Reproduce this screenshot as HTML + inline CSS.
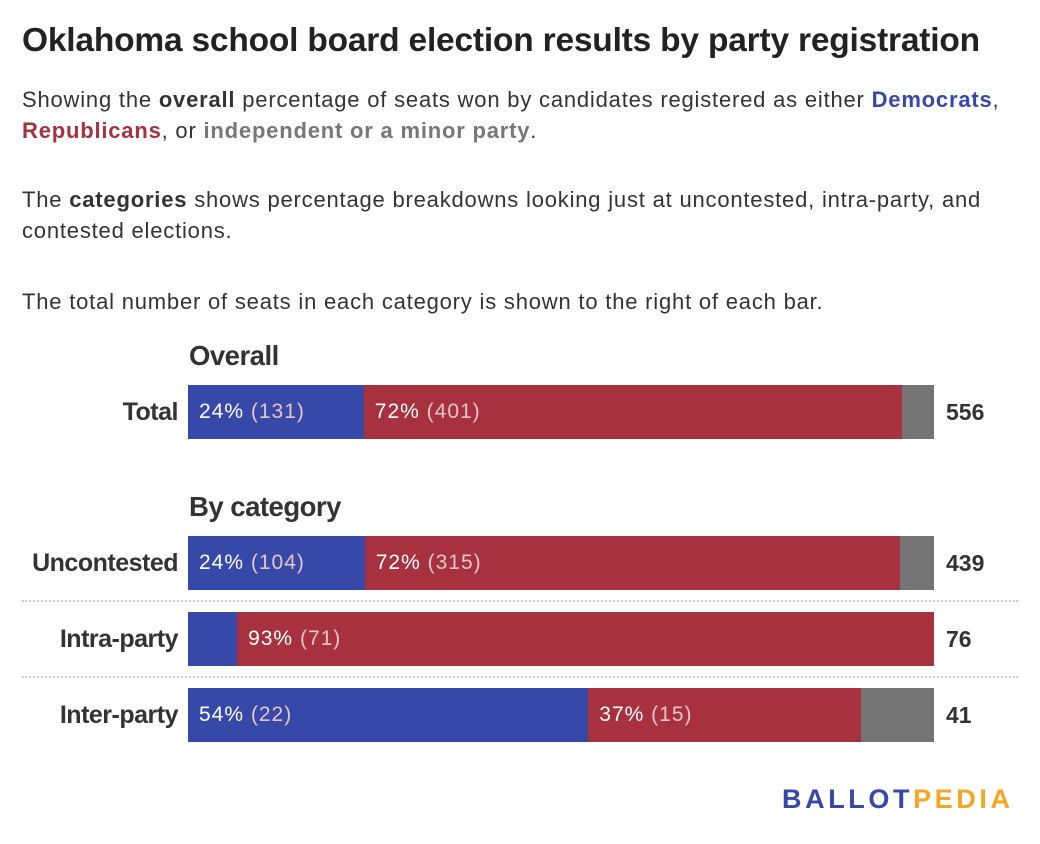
<!DOCTYPE html>
<html><head><meta charset="utf-8"><style>
body{margin:0;width:1040px;height:844px;background:#fff;font-family:"Liberation Sans",sans-serif;color:#333;position:relative;overflow:hidden}
.a{position:absolute;white-space:nowrap}
#title{left:22px;top:21px;font-size:33.5px;line-height:40px;font-weight:bold;color:#222;letter-spacing:-0.2px}
.p{left:22px;font-size:22px;line-height:26px;letter-spacing:0.8px;color:#333}
.dem{color:#3649a9;font-weight:bold}.rep{color:#a8313f;font-weight:bold}.ind{color:#777;font-weight:bold}
.h{left:189px;font-size:27.5px;line-height:32px;font-weight:bold;color:#333;letter-spacing:-0.5px}
.lab{font-size:25px;line-height:30px;font-weight:bold;color:#333;text-align:right;width:170px;left:8px;letter-spacing:-0.5px}
.tot{font-size:23px;line-height:28px;font-weight:bold;color:#333;left:946px}
.seg{position:absolute;height:54px}
.sl{position:absolute;color:#fff;font-size:21px;line-height:54px;left:11px;white-space:nowrap;letter-spacing:1px}
.sl span{color:#e6c4c8}
.sep{position:absolute;left:22px;width:996px;border-top:2px dotted #ccc}
</style></head><body>
<div id="title" class="a">Oklahoma school board election results by party registration</div>
<div class="a p" style="top:87px">Showing the <b>overall</b> percentage of seats won by candidates registered as either <span class="dem">Democrats</span>,</div>
<div class="a p" style="top:118px"><span class="rep">Republicans</span>, or <span class="ind">independent or a minor party</span>.</div>
<div class="a p" style="top:187px">The <b>categories</b> shows percentage breakdowns looking just at uncontested, intra-party, and</div>
<div class="a p" style="top:218px">contested elections.</div>
<div class="a p" style="top:289px">The total number of seats in each category is shown to the right of each bar.</div>
<div class="a h" style="top:340px">Overall</div>
<div class="a h" style="top:491px">By category</div>
<div class="sep" style="top:600px"></div>
<div class="sep" style="top:676px"></div>
<div class="a" style="left:782px;top:784px;font-size:27px;font-weight:bold;letter-spacing:3.6px"><span style="color:#3649a9">BALLOT</span><span style="color:#f5a623">PEDIA</span></div>
<div id="chart"></div>
<script>
const categories=["Total","Uncontested","Intra-party","Inter-party"];
const demSeats=[131,104,5,22];
const repSeats=[401,315,71,15];
const indSeats=[24,20,0,4];
const rowTops=[385,536,612,688];
const X0=188,W=746;
const xScale=(v,t)=>v/t*W;
const chart=document.getElementById('chart');
categories.forEach((c,i)=>{
  const t=demSeats[i]+repSeats[i]+indSeats[i];
  const y=rowTops[i];
  const lab=document.createElement('div');
  lab.className='a lab';lab.style.top=(y+12)+'px';lab.textContent=c;
  
  
  chart.appendChild(lab);
  let x=X0;
  const segs=[[demSeats[i],'#3649a9','dem'],[repSeats[i],'#a8313f','rep'],[indSeats[i],'#747474','ind']];
  segs.forEach(([v,col,k])=>{
    const w=xScale(v,t);
    if(w<=0)return;
    const s=document.createElement('div');
    s.className='seg';s.style.left=x+'px';s.style.top=y+'px';s.style.width=w+'px';s.style.background=col;
    
    
    const pct=Math.round(v/t*100);
    if(k!=='ind'&&w>100){
      const l=document.createElement('div');l.className='sl';
      l.innerHTML=pct+'% <span>('+v+')</span>';
      
      
      s.appendChild(l);
    }
    chart.appendChild(s);x+=w;
  });
  const tl=document.createElement('div');
  tl.className='a tot';tl.style.top=(y+13)+'px';tl.textContent=t;
  
  
  chart.appendChild(tl);
});
</script>
</body></html>
